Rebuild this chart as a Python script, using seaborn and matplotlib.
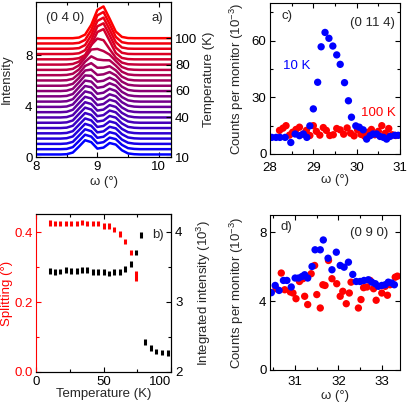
import numpy as np
import pandas as pd
import matplotlib
matplotlib.use("Agg")
import matplotlib.pyplot as plt
import seaborn as sns
from matplotlib.ticker import MultipleLocator

# ---------------- data ----------------
# panel a: omega scans at several temperatures (intensity above background)
omega_a = [8.0, 8.4, 8.5, 8.6, 8.7, 8.8, 8.9, 9.0, 9.1, 9.2, 9.3, 9.4, 9.5, 9.6, 9.7, 10.2]
temps_a = [10, 14, 18, 22, 26, 30, 34, 38, 42, 46, 50, 54, 58, 62, 66, 70, 74, 78, 82, 86, 90, 94, 98]
profiles_a = [
    [0, 0, 0.02, 0.15, 0.62, 1.12, 0.97, 0.46, 0.54, 0.90, 0.78, 0.33, 0.08, 0.02, 0, 0],
    [0, 0, 0.02, 0.16, 0.64, 1.14, 0.99, 0.47, 0.55, 0.91, 0.79, 0.34, 0.08, 0.02, 0, 0],
    [0, 0, 0.03, 0.16, 0.65, 1.15, 1.00, 0.48, 0.56, 0.92, 0.80, 0.34, 0.09, 0.02, 0, 0],
    [0, 0, 0.03, 0.17, 0.66, 1.16, 1.01, 0.49, 0.57, 0.93, 0.81, 0.35, 0.09, 0.02, 0, 0],
    [0, 0, 0.03, 0.17, 0.67, 1.17, 1.02, 0.50, 0.58, 0.94, 0.81, 0.35, 0.09, 0.02, 0, 0],
    [0, 0, 0.03, 0.18, 0.68, 1.18, 1.03, 0.51, 0.59, 0.95, 0.82, 0.36, 0.09, 0.02, 0, 0],
    [0, 0, 0.03, 0.18, 0.69, 1.19, 1.04, 0.52, 0.60, 0.96, 0.82, 0.36, 0.10, 0.02, 0, 0],
    [0, 0, 0.03, 0.18, 0.70, 1.20, 1.06, 0.54, 0.62, 0.97, 0.83, 0.36, 0.10, 0.02, 0, 0],
    [0, 0, 0.03, 0.19, 0.71, 1.21, 1.08, 0.56, 0.64, 0.98, 0.84, 0.37, 0.10, 0.02, 0, 0],
    [0, 0, 0.03, 0.19, 0.72, 1.22, 1.10, 0.58, 0.66, 0.99, 0.84, 0.37, 0.10, 0.02, 0, 0],
    [0, 0, 0.03, 0.19, 0.72, 1.23, 1.13, 0.62, 0.70, 1.01, 0.84, 0.36, 0.10, 0.02, 0, 0],
    [0, 0, 0.03, 0.18, 0.71, 1.24, 1.16, 0.67, 0.75, 1.03, 0.84, 0.35, 0.09, 0.02, 0, 0],
    [0, 0, 0.03, 0.17, 0.68, 1.23, 1.20, 0.74, 0.81, 1.05, 0.83, 0.34, 0.09, 0.02, 0, 0],
    [0, 0, 0.02, 0.15, 0.62, 1.20, 1.27, 0.85, 0.90, 1.08, 0.82, 0.32, 0.08, 0.02, 0, 0],
    [0, 0, 0.02, 0.13, 0.54, 1.14, 1.36, 1.00, 1.01, 1.12, 0.80, 0.30, 0.07, 0.01, 0, 0],
    [0, 0, 0.02, 0.11, 0.45, 1.06, 1.48, 1.24, 1.18, 1.17, 0.76, 0.27, 0.06, 0.01, 0, 0],
    [0, 0, 0.01, 0.08, 0.36, 0.95, 1.60, 1.65, 1.48, 1.20, 0.70, 0.23, 0.05, 0.01, 0, 0],
    [0, 0, 0.01, 0.05, 0.23, 0.70, 1.55, 2.05, 1.92, 1.22, 0.55, 0.16, 0.03, 0.01, 0, 0],
    [0, 0, 0, 0.02, 0.09, 0.34, 1.12, 2.15, 2.38, 1.45, 0.50, 0.11, 0.02, 0, 0, 0],
    [0, 0, 0, 0.01, 0.06, 0.30, 1.08, 2.18, 2.42, 1.48, 0.51, 0.10, 0.01, 0, 0, 0],
    [0, 0, 0, 0.01, 0.05, 0.29, 1.06, 2.19, 2.45, 1.50, 0.52, 0.10, 0.01, 0, 0, 0],
    [0, 0, 0, 0, 0.05, 0.28, 1.05, 2.21, 2.48, 1.52, 0.52, 0.10, 0.01, 0, 0, 0],
    [0, 0, 0, 0, 0.05, 0.28, 1.04, 2.22, 2.50, 1.53, 0.52, 0.10, 0.01, 0, 0, 0],
]
background_a = 0.2

# panel b: splitting and integrated intensity vs temperature
temps_split = [10, 14, 18, 22, 26, 30, 34, 38, 42, 46, 50, 54, 58, 62, 66, 70, 74]
splitting = [0.427, 0.425, 0.425, 0.425, 0.425, 0.425, 0.428, 0.425, 0.425, 0.425,
             0.418, 0.418, 0.408, 0.396, 0.374, 0.342, 0.274]
splitting_err = [0.008, 0.008, 0.008, 0.008, 0.008, 0.008, 0.008, 0.008, 0.008, 0.008,
                 0.008, 0.008, 0.008, 0.008, 0.008, 0.008, 0.014]
temps_int = [10, 14, 18, 22, 26, 30, 34, 38, 42, 46, 50, 54, 58, 62, 66, 70, 74, 78,
             81, 85, 89, 93.5, 98]
integrated = [3.44, 3.42, 3.43, 3.45, 3.44, 3.44, 3.45, 3.45, 3.42, 3.42, 3.42, 3.40,
              3.42, 3.42, 3.47, 3.54, 3.70, 3.95, 2.43, 2.34, 2.29, 2.28, 2.27]
integrated_err = [0.04] * 23

# panel c: (0 11 4) scans
omega_c_10K = [28.04, 28.14, 28.23, 28.35, 28.48, 28.58, 28.68, 28.77, 28.85, 28.92, 29.00,
               29.10, 29.18, 29.27, 29.36, 29.45, 29.54, 29.62, 29.72, 29.81, 29.88, 29.98,
               30.06, 30.15, 30.23, 30.31, 30.38, 30.46, 30.54, 30.62, 30.69, 30.77, 30.88, 30.96]
counts_c_10K = [8.8, 8.8, 8.8, 8.8, 6.1, 10.6, 9.7, 10.6, 8.8, 14.9, 23.9,
                38.0, 56.8, 64.4, 61.3, 57.2, 52.5, 47.5, 37.8, 28.2, 19.5, 14.9,
                14.2, 12.8, 7.9, 9.7, 10.6, 10.6, 9.3, 8.8, 7.9, 9.3, 9.9, 9.9]
omega_c_100K = [28.22, 28.30, 28.37, 28.45, 28.52, 28.60, 28.68, 28.76, 28.84, 28.92, 29.00,
                29.07, 29.15, 29.23, 29.30, 29.38, 29.46, 29.54, 29.62, 29.70, 29.78, 29.86,
                29.94, 30.02, 30.10, 30.18, 30.26, 30.34, 30.42, 30.50, 30.58, 30.66, 30.74,
                30.82, 30.90]
counts_c_100K = [12.5, 13.7, 15.0, 10.0, 11.5, 13.0, 14.2, 10.5, 12.5, 9.8, 15.0,
                 12.0, 10.0, 14.0, 12.5, 9.8, 10.2, 13.5, 12.8, 10.5, 13.8, 11.0,
                 9.6, 12.8, 10.4, 9.5, 11.5, 13.0, 10.2, 12.0, 15.0, 11.0, 13.5,
                 10.2, 9.8]

# panel d: (0 9 0) scans
omega_d_10K = [30.45, 30.54, 30.63, 30.73, 30.81, 30.91, 31.00, 31.08, 31.16, 31.22, 31.29,
               31.39, 31.46, 31.58, 31.65, 31.76, 31.85, 31.95, 32.04, 32.13, 32.23, 32.33,
               32.41, 32.50, 32.59, 32.69, 32.77, 32.85, 32.92, 33.00, 33.08, 33.15, 33.23, 33.29]
counts_d_10K = [4.49, 4.91, 4.62, 5.20, 5.20, 4.82, 5.34, 5.34, 5.43, 5.53, 5.34,
                6.01, 6.98, 6.98, 7.55, 6.49, 5.82, 6.84, 6.07, 5.97, 6.26, 5.55,
                5.14, 5.14, 5.20, 5.24, 5.10, 5.01, 4.86, 4.91, 4.95, 5.10, 5.05, 4.95]
omega_d_100K = [30.56, 30.68, 30.76, 30.89, 30.95, 31.02, 31.10, 31.18, 31.22, 31.29, 31.37,
                31.45, 31.50, 31.58, 31.64, 31.69, 31.77, 31.85, 31.96, 32.04, 32.10, 32.18,
                32.25, 32.29, 32.46, 32.52, 32.58, 32.66, 32.73, 32.81, 32.87, 33.00, 33.08,
                33.13, 33.19, 33.31, 33.36]
counts_d_100K = [4.72, 5.63, 4.66, 4.53, 4.47, 4.14, 5.14, 5.30, 4.28, 3.80, 5.59,
                 6.07, 4.38, 3.60, 4.95, 4.91, 6.36, 5.30, 5.01, 4.28, 4.57, 3.85,
                 4.47, 5.10, 3.60, 4.09, 4.78, 4.82, 5.20, 4.72, 4.05, 4.47, 4.86,
                 4.34, 4.95, 5.39, 5.45]

# ---------------- style ----------------
sns.set_theme(style="ticks")
plt.rcParams["font.family"] = ["Liberation Sans", "DejaVu Sans"]
plt.rcParams["mathtext.fontset"] = "custom"
plt.rcParams["mathtext.rm"] = "Liberation Sans"
plt.rcParams["mathtext.it"] = "Liberation Sans:italic"
FS = 9.5
plt.rcParams["font.size"] = FS

W = H = 407.0
fig = plt.figure(figsize=(4.07, 4.07), dpi=100)
fig.patch.set_facecolor("white")

RED = "#ff0000"
BLUE = "#0000ff"


def style(ax, top=True, right=True, left=True, xpad=3.5):
    ax.tick_params(which="both", direction="in", top=top, right=right, left=left,
                   width=0.8, labelsize=FS, colors="black")
    ax.tick_params(axis="y", pad=2.5)
    ax.tick_params(axis="x", pad=xpad)
    ax.tick_params(which="major", length=3.5)
    ax.tick_params(which="minor", length=2)
    for s in ax.spines.values():
        s.set_linewidth(0.8)
        s.set_color("black")
    ax.set_facecolor("none")


def rect(l, r, t, b):
    return [l / W, 1 - b / H, (r - l) / W, (b - t) / H]

# ---------------- panel a ----------------
ax_a = fig.add_axes(rect(36, 171, 2, 157))
offset_per_K = 0.104
rows = []
for T, prof in zip(temps_a, profiles_a):
    for w, v in zip(omega_a, prof):
        rows.append({"omega": w, "T": T, "y": v + background_a + (T - 10) * offset_per_K})
df_a = pd.DataFrame(rows)
tmin, tmax = temps_a[0], temps_a[-1]
pal_a = {T: ((T - tmin) / (tmax - tmin), 0.0, 1 - (T - tmin) / (tmax - tmin)) for T in temps_a}
sns.lineplot(data=df_a, x="omega", y="y", hue="T", palette=pal_a, units="T",
             estimator=None, legend=False, linewidth=1.8, ax=ax_a)
ax_a.set_xlim(8, 10.2)
ylim_a = 12.2
ax_a.set_ylim(0, ylim_a)
ax_a.set_xticks([8, 9, 10])
ax_a.xaxis.set_minor_locator(MultipleLocator(0.5))
ax_a.set_yticks([0, 4, 8])
style(ax_a, right=False, xpad=3.2)
ax_a.set_xlabel("ω (°)", fontsize=FS)
ax_a.set_ylabel("Intensity", fontsize=FS)
ax_a.yaxis.set_label_coords(-0.17, 0.5)
ax_a.xaxis.set_label_coords(0.5, -0.12)
ax_a.text(0.215, 0.895, "(0 4 0)", transform=ax_a.transAxes, ha="center", va="center", fontsize=FS)
ax_a.text(0.9, 0.9, "a)", transform=ax_a.transAxes, ha="center", va="center", fontsize=FS)

tw_a = ax_a.twinx()
tw_a.set_ylim(10, 10 + ylim_a / offset_per_K)
tw_a.set_yticks([10, 40, 60, 80, 100])
style(tw_a, top=False, left=False)
tw_a.tick_params(axis="y", pad=3)
tw_a.spines["left"].set_visible(False)
tw_a.set_ylabel("Temperature (K)", fontsize=FS)
tw_a.yaxis.set_label_coords(1.24, 0.5)

# ---------------- panel b ----------------
ax_b = fig.add_axes(rect(36, 171, 214, 372))
ax_b.errorbar(temps_split, splitting, yerr=splitting_err, fmt="none",
              ecolor=RED, elinewidth=2.2, capsize=0)
ax_b.set_xlim(0, 100)
ax_b.set_ylim(0, 0.4525)
ax_b.set_xticks([0, 50, 100])
ax_b.xaxis.set_minor_locator(MultipleLocator(25))
ax_b.set_yticks([0.0, 0.2, 0.4])
ax_b.set_yticklabels(["0.0", "0.2", "0.4"])
ax_b.yaxis.set_minor_locator(MultipleLocator(0.1))
style(ax_b, right=False, xpad=3)
ax_b.tick_params(axis="y", which="both", colors=RED)
ax_b.spines["left"].set_color(RED)
ax_b.set_xlabel("Temperature (K)", fontsize=FS)
ax_b.set_ylabel("Splitting (°)", fontsize=FS, color=RED)
ax_b.yaxis.set_label_coords(-0.17, 0.5)
ax_b.xaxis.set_label_coords(0.5, -0.1)
fig.canvas.draw()
ax_b.get_xticklabels()[-1].set_horizontalalignment("right")
ax_b.get_xticklabels()[-1].set_x(101.5)

tw_b = ax_b.twinx()
tw_b.errorbar(temps_int, integrated, yerr=integrated_err, fmt="none",
              ecolor="black", elinewidth=2.2, capsize=0)
tw_b.set_ylim(2, 4.25)
tw_b.set_yticks([2, 3, 4])
tw_b.yaxis.set_minor_locator(MultipleLocator(0.5))
style(tw_b, top=False, left=False)
tw_b.tick_params(axis="y", pad=3)
tw_b.spines["left"].set_visible(False)
tw_b.set_ylabel("Integrated intensity (10$^{3}$)", fontsize=FS)
tw_b.yaxis.set_label_coords(1.175, 0.5)
tw_b.text(0.9, 0.865, "b)", transform=tw_b.transAxes, ha="center", va="center", fontsize=FS)

# ---------------- panel c ----------------
ax_c = fig.add_axes(rect(270, 400, 3, 154))
df_c = pd.concat([
    pd.DataFrame({"omega": omega_c_100K, "counts": counts_c_100K, "T": "100 K"}),
    pd.DataFrame({"omega": omega_c_10K, "counts": counts_c_10K, "T": "10 K"}),
])
sns.scatterplot(data=df_c, x="omega", y="counts", hue="T",
                palette={"10 K": BLUE, "100 K": RED}, s=28, linewidth=0,
                legend=False, ax=ax_c)
ax_c.set_xlim(28, 31)
ax_c.set_ylim(0, 80)
ax_c.set_xticks([28, 29, 30, 31])
ax_c.xaxis.set_minor_locator(MultipleLocator(0.5))
ax_c.set_yticks([0, 30, 60])
ax_c.yaxis.set_minor_locator(MultipleLocator(15))
style(ax_c, xpad=5.5)
ax_c.set_xlabel("ω (°)", fontsize=FS)
ax_c.set_ylabel("Counts per monitor (10$^{-3}$)", fontsize=FS)
ax_c.yaxis.set_label_coords(-0.185, 0.5)
ax_c.xaxis.set_label_coords(0.5, -0.13)
ax_c.text(0.13, 0.915, "c)", transform=ax_c.transAxes, ha="center", va="center", fontsize=FS)
ax_c.text(0.785, 0.868, "(0 11 4)", transform=ax_c.transAxes, ha="center", va="center", fontsize=FS)
ax_c.text(0.205, 0.583, "10 K", transform=ax_c.transAxes, ha="center", va="center", fontsize=FS, color=BLUE)
ax_c.text(0.83, 0.27, "100 K", transform=ax_c.transAxes, ha="center", va="center", fontsize=FS, color=RED)

# ---------------- panel d ----------------
ax_d = fig.add_axes(rect(270, 400, 215, 370))
df_d = pd.concat([
    pd.DataFrame({"omega": omega_d_100K, "counts": counts_d_100K, "T": "100 K"}),
    pd.DataFrame({"omega": omega_d_10K, "counts": counts_d_10K, "T": "10 K"}),
])
sns.scatterplot(data=df_d, x="omega", y="counts", hue="T",
                palette={"10 K": BLUE, "100 K": RED}, s=28, linewidth=0,
                legend=False, ax=ax_d)
ax_d.set_xlim(30.42, 33.42)
ax_d.set_ylim(0, 9)
ax_d.set_xticks([31, 32, 33])
ax_d.xaxis.set_minor_locator(MultipleLocator(0.5))
ax_d.set_yticks([0, 4, 8])
style(ax_d, xpad=4.2)
ax_d.set_xlabel("ω (°)", fontsize=FS)
ax_d.set_ylabel("Counts per monitor (10$^{-3}$)", fontsize=FS)
ax_d.yaxis.set_label_coords(-0.185, 0.5)
ax_d.xaxis.set_label_coords(0.5, -0.13)
ax_d.text(0.128, 0.92, "d)", transform=ax_d.transAxes, ha="center", va="center", fontsize=FS)
ax_d.text(0.764, 0.886, "(0 9 0)", transform=ax_d.transAxes, ha="center", va="center", fontsize=FS)

fig.savefig("out.png", dpi=100, facecolor="white")
